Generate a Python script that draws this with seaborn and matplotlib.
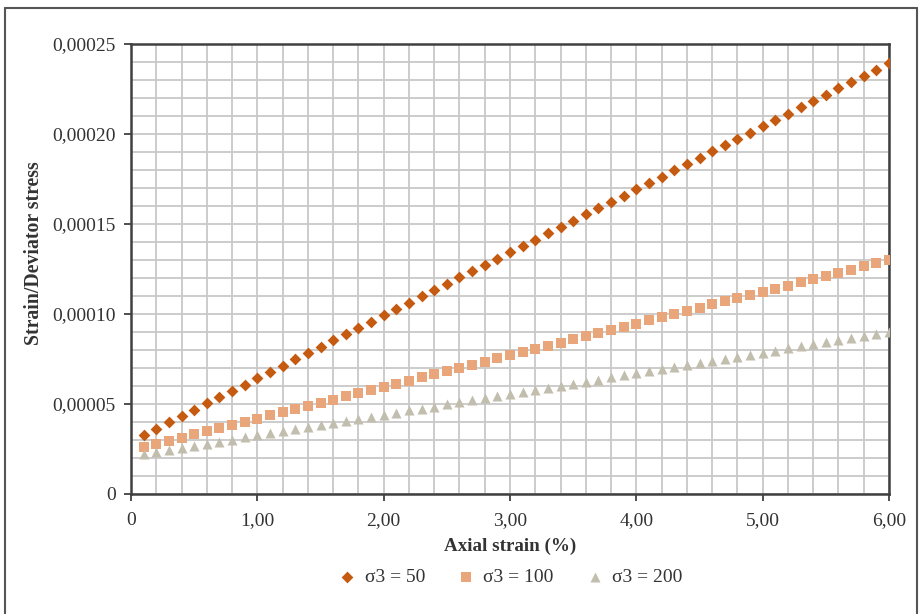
import matplotlib
matplotlib.use("Agg")
import matplotlib.pyplot as plt
import seaborn as sns
import pandas as pd
import numpy as np
from matplotlib.lines import Line2D
from matplotlib.ticker import FixedLocator

# ---- data ----
axial_strain = [0.1, 0.2, 0.3, 0.4, 0.5, 0.6, 0.7, 0.8, 0.9, 1.0,
                1.1, 1.2, 1.3, 1.4, 1.5, 1.6, 1.7, 1.8, 1.9, 2.0,
                2.1, 2.2, 2.3, 2.4, 2.5, 2.6, 2.7, 2.8, 2.9, 3.0,
                3.1, 3.2, 3.3, 3.4, 3.5, 3.6, 3.7, 3.8, 3.9, 4.0,
                4.1, 4.2, 4.3, 4.4, 4.5, 4.6, 4.7, 4.8, 4.9, 5.0,
                5.1, 5.2, 5.3, 5.4, 5.5, 5.6, 5.7, 5.8, 5.9, 6.0]

# values in units of 1e-6
s3_50 = [32.8, 36.3, 39.8, 43.3, 46.8, 50.3, 53.8, 57.3, 60.8, 64.3,
         67.8, 71.3, 74.8, 78.3, 81.8, 85.3, 88.8, 92.3, 95.8, 99.3,
         102.8, 106.3, 109.8, 113.3, 116.8, 120.3, 123.8, 127.3, 130.8, 134.3,
         137.8, 141.3, 144.8, 148.3, 151.8, 155.3, 158.8, 162.3, 165.8, 169.3,
         172.8, 176.3, 179.8, 183.3, 186.8, 190.3, 193.8, 197.3, 200.8, 204.3,
         207.8, 211.3, 214.8, 218.3, 221.8, 225.3, 228.8, 232.3, 235.8, 239.3]
s3_100 = [26.1, 27.8, 29.6, 31.3, 33.1, 34.9, 36.6, 38.4, 40.1, 41.9,
          43.7, 45.4, 47.2, 48.9, 50.7, 52.5, 54.2, 56.0, 57.7, 59.5,
          61.3, 63.0, 64.8, 66.5, 68.3, 70.1, 71.8, 73.6, 75.3, 77.1,
          78.9, 80.6, 82.4, 84.1, 85.9, 87.7, 89.4, 91.2, 92.9, 94.7,
          96.5, 98.2, 100.0, 101.7, 103.5, 105.3, 107.0, 108.8, 110.5, 112.3,
          114.1, 115.8, 117.6, 119.3, 121.1, 122.9, 124.6, 126.4, 128.1, 129.9]
s3_200 = [22.2, 23.4, 24.5, 25.7, 26.8, 28.0, 29.1, 30.2, 31.4, 32.6,
          33.7, 34.9, 36.0, 37.2, 38.3, 39.4, 40.6, 41.8, 42.9, 44.1,
          45.2, 46.4, 47.5, 48.6, 49.8, 51.0, 52.1, 53.3, 54.4, 55.6,
          56.7, 57.8, 59.0, 60.2, 61.3, 62.5, 63.6, 64.8, 65.9, 67.0,
          68.2, 69.4, 70.5, 71.7, 72.8, 74.0, 75.1, 76.2, 77.4, 78.6,
          79.7, 80.9, 82.0, 83.2, 84.3, 85.4, 86.6, 87.8, 88.9, 90.0]

series_names = ["σ3 = 50", "σ3 = 100", "σ3 = 200"]
x_ticks = [0, 1, 2, 3, 4, 5, 6]
x_tick_labels = ["0", "1,00", "2,00", "3,00", "4,00", "5,00", "6,00"]
y_ticks = [0, 0.00005, 0.00010, 0.00015, 0.00020, 0.00025]
y_tick_labels = ["0", "0,00005", "0,00010", "0,00015", "0,00020", "0,00025"]

frames = []
for name, vals in zip(series_names, [s3_50, s3_100, s3_200]):
    frames.append(pd.DataFrame({"x": axial_strain,
                                "y": np.array(vals) * 1e-6,
                                "series": name}))
df = pd.concat(frames, ignore_index=True)

# ---- style ----
sns.set_theme(style="white")
plt.rcParams["font.family"] = ["Liberation Serif", "DejaVu Serif"]
text_color = "#333333"

fig = plt.figure(figsize=(9.19, 6.14), dpi=100)
ax = fig.add_axes([131 / 919, 1 - 494 / 614, (889 - 131) / 919, (494 - 44) / 614])

palette = {"σ3 = 50": "#C55A11", "σ3 = 100": "#E8A67A", "σ3 = 200": "#C2BEAE"}
markers = {"σ3 = 50": "D", "σ3 = 100": "s", "σ3 = 200": "^"}
sizes_map = {"σ3 = 50": 36, "σ3 = 100": 52, "σ3 = 200": 52}

for name in series_names:
    sub = df[df["series"] == name]
    sns.scatterplot(data=sub, x="x", y="y", ax=ax, color=palette[name],
                    marker=markers[name], s=sizes_map[name], linewidth=0,
                    zorder=3, label=name)

ax.set_xlim(0, 6)
ax.set_ylim(0, 0.00025)

# grid
ax.xaxis.set_minor_locator(FixedLocator(np.arange(0, 6.001, 0.2)))
ax.yaxis.set_minor_locator(FixedLocator(np.arange(0, 0.000251, 0.00001)))
ax.grid(which="minor", color="#C8C8C8", linewidth=1.3, zorder=0)
ax.grid(which="major", color="#C8C8C8", linewidth=1.3, zorder=0)
ax.set_axisbelow(True)

ax.set_xticks(x_ticks)
ax.set_xticklabels(x_tick_labels)
ax.set_yticks(y_ticks)
ax.set_yticklabels(y_tick_labels)
ax.tick_params(which="major", direction="out", length=5, width=1.3,
               color="#404040", labelsize=14, labelcolor=text_color, pad=6,
               bottom=True, left=True)
ax.tick_params(axis="x", which="major", pad=8)
ax.tick_params(which="minor", length=0)

for sp in ax.spines.values():
    sp.set_color("#404040")
    sp.set_linewidth(1.8)
    sp.set_visible(True)

ax.set_xlabel("Axial strain (%)", fontsize=13.7, fontweight="bold",
              color=text_color)
ax.xaxis.set_label_coords(0.5, -(538 - 494) / 450, transform=ax.transAxes)
ax.set_ylabel("Strain/Deviator stress", fontsize=14.2, fontweight="bold",
              color=text_color)
ax.yaxis.set_label_coords((44 - 131) / 758, (494 - 253) / 450,
                          transform=ax.transAxes)

leg = ax.legend(loc="center", bbox_to_anchor=(510 / 919, 1 - 577 / 614),
                bbox_transform=fig.transFigure, ncol=3, frameon=False,
                fontsize=14, handlelength=1.0, handletextpad=0.4,
                columnspacing=1.6, markerscale=1.0)
for t in leg.get_texts():
    t.set_color(text_color)

# outer border
border_kw = dict(transform=fig.transFigure, color="#555555", linewidth=1.5)
fig.add_artist(Line2D([5 / 919, 5 / 919], [0, 1 - 8 / 614], **border_kw))
fig.add_artist(Line2D([5 / 919, 917 / 919], [1 - 8 / 614, 1 - 8 / 614], **border_kw))
fig.add_artist(Line2D([917 / 919, 917 / 919], [0, 1 - 8 / 614], **border_kw))

fig.savefig("out.png", dpi=100)
